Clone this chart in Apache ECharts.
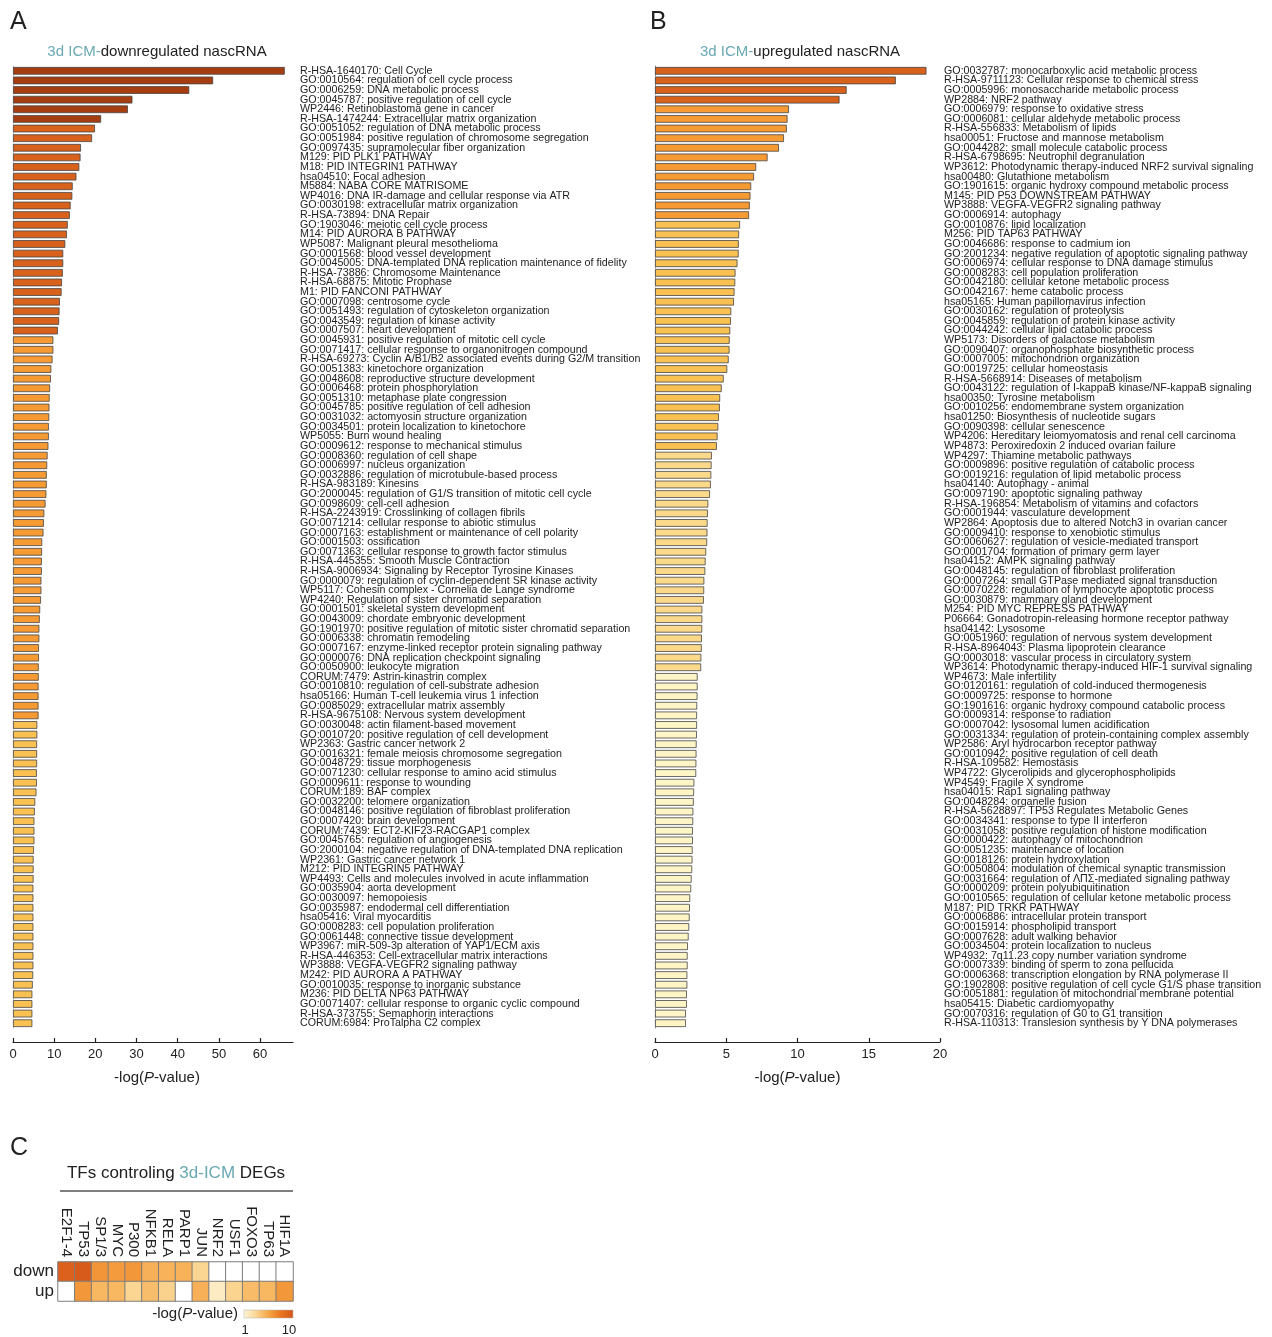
<!DOCTYPE html>
<html>
<head>
<meta charset="utf-8">
<script src="https://cdn.jsdelivr.net/npm/echarts@6/dist/echarts.min.js"></script>
<style>
  html, body { margin: 0; padding: 0; background: #ffffff; }
  #chart { width: 1272px; height: 1337px; }
</style>
</head>
<body>
<div id="chart"></div>
<script>
// Enriched terms among 3d ICM-downregulated nascent transcripts
const downTerms = [
  'R-HSA-1640170: Cell Cycle',
  'GO:0010564: regulation of cell cycle process',
  'GO:0006259: DNA metabolic process',
  'GO:0045787: positive regulation of cell cycle',
  'WP2446: Retinoblastoma gene in cancer',
  'R-HSA-1474244: Extracellular matrix organization',
  'GO:0051052: regulation of DNA metabolic process',
  'GO:0051984: positive regulation of chromosome segregation',
  'GO:0097435: supramolecular fiber organization',
  'M129: PID PLK1 PATHWAY',
  'M18: PID INTEGRIN1 PATHWAY',
  'hsa04510: Focal adhesion',
  'M5884: NABA CORE MATRISOME',
  'WP4016: DNA IR-damage and cellular response via ATR',
  'GO:0030198: extracellular matrix organization',
  'R-HSA-73894: DNA Repair',
  'GO:1903046: meiotic cell cycle process',
  'M14: PID AURORA B PATHWAY',
  'WP5087: Malignant pleural mesothelioma',
  'GO:0001568: blood vessel development',
  'GO:0045005: DNA-templated DNA replication maintenance of fidelity',
  'R-HSA-73886: Chromosome Maintenance',
  'R-HSA-68875: Mitotic Prophase',
  'M1: PID FANCONI PATHWAY',
  'GO:0007098: centrosome cycle',
  'GO:0051493: regulation of cytoskeleton organization',
  'GO:0043549: regulation of kinase activity',
  'GO:0007507: heart development',
  'GO:0045931: positive regulation of mitotic cell cycle',
  'GO:0071417: cellular response to organonitrogen compound',
  'R-HSA-69273: Cyclin A/B1/B2 associated events during G2/M transition',
  'GO:0051383: kinetochore organization',
  'GO:0048608: reproductive structure development',
  'GO:0006468: protein phosphorylation',
  'GO:0051310: metaphase plate congression',
  'GO:0045785: positive regulation of cell adhesion',
  'GO:0031032: actomyosin structure organization',
  'GO:0034501: protein localization to kinetochore',
  'WP5055: Burn wound healing',
  'GO:0009612: response to mechanical stimulus',
  'GO:0008360: regulation of cell shape',
  'GO:0006997: nucleus organization',
  'GO:0032886: regulation of microtubule-based process',
  'R-HSA-983189: Kinesins',
  'GO:2000045: regulation of G1/S transition of mitotic cell cycle',
  'GO:0098609: cell-cell adhesion',
  'R-HSA-2243919: Crosslinking of collagen fibrils',
  'GO:0071214: cellular response to abiotic stimulus',
  'GO:0007163: establishment or maintenance of cell polarity',
  'GO:0001503: ossification',
  'GO:0071363: cellular response to growth factor stimulus',
  'R-HSA-445355: Smooth Muscle Contraction',
  'R-HSA-9006934: Signaling by Receptor Tyrosine Kinases',
  'GO:0000079: regulation of cyclin-dependent SR kinase activity',
  'WP5117: Cohesin complex - Cornelia de Lange syndrome',
  'WP4240: Regulation of sister chromatid separation',
  'GO:0001501: skeletal system development',
  'GO:0043009: chordate embryonic development',
  'GO:1901970: positive regulation of mitotic sister chromatid separation',
  'GO:0006338: chromatin remodeling',
  'GO:0007167: enzyme-linked receptor protein signaling pathway',
  'GO:0000076: DNA replication checkpoint signaling',
  'GO:0050900: leukocyte migration',
  'CORUM:7479: Astrin-kinastrin complex',
  'GO:0010810: regulation of cell-substrate adhesion',
  'hsa05166: Human T-cell leukemia virus 1 infection',
  'GO:0085029: extracellular matrix assembly',
  'R-HSA-9675108: Nervous system development',
  'GO:0030048: actin filament-based movement',
  'GO:0010720: positive regulation of cell development',
  'WP2363: Gastric cancer network 2',
  'GO:0016321: female meiosis chromosome segregation',
  'GO:0048729: tissue morphogenesis',
  'GO:0071230: cellular response to amino acid stimulus',
  'GO:0009611: response to wounding',
  'CORUM:189: BAF complex',
  'GO:0032200: telomere organization',
  'GO:0048146: positive regulation of fibroblast proliferation',
  'GO:0007420: brain development',
  'CORUM:7439: ECT2-KIF23-RACGAP1 complex',
  'GO:0045765: regulation of angiogenesis',
  'GO:2000104: negative regulation of DNA-templated DNA replication',
  'WP2361: Gastric cancer network 1',
  'M212: PID INTEGRIN5 PATHWAY',
  'WP4493: Cells and molecules involved in acute inflammation',
  'GO:0035904: aorta development',
  'GO:0030097: hemopoiesis',
  'GO:0035987: endodermal cell differentiation',
  'hsa05416: Viral myocarditis',
  'GO:0008283: cell population proliferation',
  'GO:0061448: connective tissue development',
  'WP3967: miR-509-3p alteration of YAP1/ECM axis',
  'R-HSA-446353: Cell-extracellular matrix interactions',
  'WP3888: VEGFA-VEGFR2 signaling pathway',
  'M242: PID AURORA A PATHWAY',
  'GO:0010035: response to inorganic substance',
  'M236: PID DELTA NP63 PATHWAY',
  'GO:0071407: cellular response to organic cyclic compound',
  'R-HSA-373755: Semaphorin interactions',
  'CORUM:6984: ProTalpha C2 complex'
];

const downValues = [
  66.0, 48.6, 42.8, 29.0, 27.9, 21.4, 19.9, 19.2, 16.5, 16.4,
  16.1, 15.4, 14.5, 14.4, 14.0, 13.8, 13.3, 13.1, 12.7, 12.2,
  12.2, 12.1, 11.9, 11.8, 11.4, 11.3, 11.2, 10.9, 9.8, 9.8,
  9.6, 9.3, 9.2, 9.0, 8.9, 8.85, 8.8, 8.7, 8.7, 8.6,
  8.4, 8.3, 8.2, 8.2, 8.1, 7.9, 7.6, 7.5, 7.4, 7.1,
  7.05, 7.0, 7.0, 6.9, 6.9, 6.8, 6.6, 6.5, 6.4, 6.4,
  6.3, 6.3, 6.25, 6.25, 6.2, 6.2, 6.2, 6.2, 5.9, 5.9,
  5.85, 5.85, 5.85, 5.8, 5.8, 5.7, 5.4, 5.3, 5.2, 5.2,
  5.2, 5.1, 5.0, 5.0, 5.0, 4.95, 4.95, 4.95, 4.95, 4.95,
  4.95, 4.95, 4.95, 4.95, 4.9, 4.8, 4.7, 4.7, 4.7, 4.7
];

// Enriched terms among 3d ICM-upregulated nascent transcripts
const upTerms = [
  'GO:0032787: monocarboxylic acid metabolic process',
  'R-HSA-9711123: Cellular response to chemical stress',
  'GO:0005996: monosaccharide metabolic process',
  'WP2884: NRF2 pathway',
  'GO:0006979: response to oxidative stress',
  'GO:0006081: cellular aldehyde metabolic process',
  'R-HSA-556833: Metabolism of lipids',
  'hsa00051: Fructose and mannose metabolism',
  'GO:0044282: small molecule catabolic process',
  'R-HSA-6798695: Neutrophil degranulation',
  'WP3612: Photodynamic therapy-induced NRF2 survival signaling',
  'hsa00480: Glutathione metabolism',
  'GO:1901615: organic hydroxy compound metabolic process',
  'M145: PID P53 DOWNSTREAM PATHWAY',
  'WP3888: VEGFA-VEGFR2 signaling pathway',
  'GO:0006914: autophagy',
  'GO:0010876: lipid localization',
  'M256: PID TAP63 PATHWAY',
  'GO:0046686: response to cadmium ion',
  'GO:2001234: negative regulation of apoptotic signaling pathway',
  'GO:0006974: cellular response to DNA damage stimulus',
  'GO:0008283: cell population proliferation',
  'GO:0042180: cellular ketone metabolic process',
  'GO:0042167: heme catabolic process',
  'hsa05165: Human papillomavirus infection',
  'GO:0030162: regulation of proteolysis',
  'GO:0045859: regulation of protein kinase activity',
  'GO:0044242: cellular lipid catabolic process',
  'WP5173: Disorders of galactose metabolism',
  'GO:0090407: organophosphate biosynthetic process',
  'GO:0007005: mitochondrion organization',
  'GO:0019725: cellular homeostasis',
  'R-HSA-5668914: Diseases of metabolism',
  'GO:0043122: regulation of I-kappaB kinase/NF-kappaB signaling',
  'hsa00350: Tyrosine metabolism',
  'GO:0010256: endomembrane system organization',
  'hsa01250: Biosynthesis of nucleotide sugars',
  'GO:0090398: cellular senescence',
  'WP4206: Hereditary leiomyomatosis and renal cell carcinoma',
  'WP4873: Peroxiredoxin 2 induced ovarian failure',
  'WP4297: Thiamine metabolic pathways',
  'GO:0009896: positive regulation of catabolic process',
  'GO:0019216: regulation of lipid metabolic process',
  'hsa04140: Autophagy - animal',
  'GO:0097190: apoptotic signaling pathway',
  'R-HSA-196854: Metabolism of vitamins and cofactors',
  'GO:0001944: vasculature development',
  'WP2864: Apoptosis due to altered Notch3 in ovarian cancer',
  'GO:0009410: response to xenobiotic stimulus',
  'GO:0060627: regulation of vesicle-mediated transport',
  'GO:0001704: formation of primary germ layer',
  'hsa04152: AMPK signaling pathway',
  'GO:0048145: regulation of fibroblast proliferation',
  'GO:0007264: small GTPase mediated signal transduction',
  'GO:0070228: regulation of lymphocyte apoptotic process',
  'GO:0030879: mammary gland development',
  'M254: PID MYC REPRESS PATHWAY',
  'P06664: Gonadotropin-releasing hormone receptor pathway',
  'hsa04142: Lysosome',
  'GO:0051960: regulation of nervous system development',
  'R-HSA-8964043: Plasma lipoprotein clearance',
  'GO:0003018: vascular process in circulatory system',
  'WP3614: Photodynamic therapy-induced HIF-1 survival signaling',
  'WP4673: Male infertility',
  'GO:0120161: regulation of cold-induced thermogenesis',
  'GO:0009725: response to hormone',
  'GO:1901616: organic hydroxy compound catabolic process',
  'GO:0009314: response to radiation',
  'GO:0007042: lysosomal lumen acidification',
  'GO:0031334: regulation of protein-containing complex assembly',
  'WP2586: Aryl hydrocarbon receptor pathway',
  'GO:0010942: positive regulation of cell death',
  'R-HSA-109582: Hemostasis',
  'WP4722: Glycerolipids and glycerophospholipids',
  'WP4549: Fragile X syndrome',
  'hsa04015: Rap1 signaling pathway',
  'GO:0048284: organelle fusion',
  'R-HSA-5628897: TP53 Regulates Metabolic Genes',
  'GO:0034341: response to type II interferon',
  'GO:0031058: positive regulation of histone modification',
  'GO:0000422: autophagy of mitochondrion',
  'GO:0051235: maintenance of location',
  'GO:0018126: protein hydroxylation',
  'GO:0050804: modulation of chemical synaptic transmission',
  'GO:0031664: regulation of ΛΠΣ-mediated signaling pathway',
  'GO:0000209: protein polyubiquitination',
  'GO:0010565: regulation of cellular ketone metabolic process',
  'M187: PID TRKR PATHWAY',
  'GO:0006886: intracellular protein transport',
  'GO:0015914: phospholipid transport',
  'GO:0007628: adult walking behavior',
  'GO:0034504: protein localization to nucleus',
  'WP4932: 7q11.23 copy number variation syndrome',
  'GO:0007339: binding of sperm to zona pellucida',
  'GO:0006368: transcription elongation by RNA polymerase II',
  'GO:1902808: positive regulation of cell cycle G1/S phase transition',
  'GO:0051881: regulation of mitochondrial membrane potential',
  'hsa05415: Diabetic cardiomyopathy',
  'GO:0070316: regulation of G0 to G1 transition',
  'R-HSA-110313: Translesion synthesis by Y DNA polymerases'
];

const upValues = [
  19.05, 16.9, 13.45, 12.95, 9.4, 9.3, 9.25, 9.05, 8.7, 7.9,
  7.1, 6.95, 6.75, 6.7, 6.65, 6.6, 5.97, 5.9, 5.88, 5.87,
  5.79, 5.65, 5.63, 5.58, 5.54, 5.35, 5.33, 5.28, 5.24, 5.23,
  5.17, 5.07, 4.82, 4.68, 4.57, 4.55, 4.48, 4.44, 4.39, 4.34,
  3.99, 3.97, 3.95, 3.92, 3.86, 3.74, 3.71, 3.69, 3.68, 3.66,
  3.59, 3.55, 3.53, 3.46, 3.45, 3.43, 3.32, 3.32, 3.31, 3.29,
  3.28, 3.25, 3.24, 2.99, 2.99, 2.98, 2.96, 2.95, 2.95, 2.94,
  2.92, 2.91, 2.9, 2.89, 2.76, 2.74, 2.72, 2.69, 2.68, 2.66,
  2.66, 2.64, 2.63, 2.61, 2.57, 2.54, 2.47, 2.45, 2.43, 2.4,
  2.36, 2.31, 2.29, 2.29, 2.27, 2.27, 2.24, 2.24, 2.17, 2.17
];

const downTicks = [0, 10, 20, 30, 40, 50, 60];
const upTicks = [0, 5, 10, 15, 20];

// Transcription factors controlling 3d-ICM DEGs, -log(P) per direction (0 = not enriched)
const tfNames = ['E2F1-4', 'TP53', 'SP1/3', 'MYC', 'P300', 'NFKB1', 'RELA', 'PARP1', 'JUN', 'NRF2', 'USF1', 'FOXO3', 'TP63', 'HIF1A'];
const tfRows = ['down', 'up'];
const tfDown = [9.2, 9.6, 6.3, 6.0, 6.2, 5.0, 4.9, 4.9, 3.2, 0, 0, 0, 0, 0];
const tfUp   = [0, 6.2, 4.7, 4.7, 3.25, 4.4, 3.4, 0, 5.0, 1.7, 3.3, 4.5, 4.7, 6.2];
const scaleEnds = [1, 10];

const FONT = "'Liberation Sans', Arial, Helvetica, sans-serif";
const TEAL = '#6aa8b3';
const INK = '#222222';
const RAMP = ['#fef6da', '#fbd592', '#f6a646', '#e9761f', '#d3561a'];

// bar fill by significance bin
function binColor(v) {
  if (v >= 20) return '#a63d10';
  if (v >= 10) return '#d8611c';
  if (v >= 6) return '#f69a33';
  if (v >= 4) return '#f9c052';
  if (v >= 3) return '#fbd98b';
  return '#fdf5c6';
}

const heatData = [];
tfNames.forEach(function (name, i) {
  heatData.push([i, 0, tfDown[i]]);
  heatData.push([i, 1, tfUp[i]]);
});

function valueAxis(gridIndex, max, ticks, shift) {
  return {
    type: 'value', gridIndex: gridIndex, min: 0, max: max, interval: ticks[1] - ticks[0],
    position: 'bottom', offset: 14,
    axisLine: { show: true, lineStyle: { color: INK, width: 1.2 } },
    axisTick: { show: true, inside: true, length: 4, customValues: ticks, lineStyle: { color: INK, width: 1.2 } },
    axisLabel: { customValues: ticks, fontSize: 13, color: INK, margin: 6, fontFamily: FONT },
    splitLine: { show: false },
    name: '-log({i|P}-value)', nameLocation: 'middle', nameGap: 28,
    nameTextStyle: {
      fontSize: 15, color: INK, fontFamily: FONT, padding: [0, 0, 0, shift],
      rich: { i: { fontStyle: 'italic', fontSize: 15, color: INK, fontFamily: FONT } }
    }
  };
}

function termAxis(gridIndex, terms, lineColor, offset, margin) {
  return {
    type: 'category', gridIndex: gridIndex, data: terms, inverse: true,
    position: 'right', offset: offset,
    axisLine: { show: true, lineStyle: { color: lineColor, type: 'dashed', width: 1 } },
    axisTick: { show: false },
    axisLabel: { interval: 0, fontSize: 10.7, color: '#1e1e1e', margin: margin, fontFamily: FONT }
  };
}

function barSeries(idx, values) {
  return {
    type: 'bar', xAxisIndex: idx, yAxisIndex: idx, data: values,
    barCategoryGap: '20%',
    itemStyle: {
      color: function (p) { return binColor(p.value); },
      borderColor: '#454545', borderWidth: 0.8
    },
    emphasis: { disabled: true }
  };
}

const chart = echarts.init(document.getElementById('chart'), null, { renderer: 'canvas' });

chart.setOption({
  animation: false,
  backgroundColor: '#ffffff',
  textStyle: { fontFamily: FONT },
  grid: [
    { left: 13, top: 66, width: 280, height: 962 },
    { left: 655, top: 66, width: 285, height: 962 },
    { left: 58, top: 1262, width: 235, height: 39 }
  ],
  xAxis: [
    valueAxis(0, 68, downTicks, 8),
    valueAxis(1, 20, upTicks, 0),
    {
      type: 'category', gridIndex: 2, data: tfNames, position: 'top',
      axisLine: { show: false }, axisTick: { show: false },
      axisLabel: { interval: 0, rotate: 90, fontSize: 15, color: INK, margin: 5, fontFamily: FONT },
      splitArea: { show: false }
    }
  ],
  yAxis: [
    termAxis(0, downTerms, '#c4c4c4', 4, 3),
    termAxis(1, upTerms, '#8c8c8c', 3, 1),
    {
      type: 'category', gridIndex: 2, data: tfRows, inverse: true,
      axisLine: { show: false }, axisTick: { show: false },
      axisLabel: { interval: 0, fontSize: 17, color: INK, margin: 4, fontFamily: FONT },
      splitArea: { show: false }
    }
  ],
  // cells below the scale start (not enriched) stay white
  visualMap: {
    type: 'continuous', seriesIndex: 2, min: scaleEnds[0] - 0.01, max: scaleEnds[1],
    range: [scaleEnds[0], scaleEnds[1]],
    show: false,
    inRange: { color: RAMP },
    outOfRange: { color: '#ffffff' }
  },
  series: [
    barSeries(0, downValues),
    barSeries(1, upValues),
    {
      type: 'heatmap', xAxisIndex: 2, yAxisIndex: 2, data: heatData,
      itemStyle: { borderColor: '#7d7d7d', borderWidth: 1 },
      emphasis: { disabled: true }
    }
  ],
  graphic: [
    { type: 'text', x: 10, y: 22, style: { text: 'A', fontSize: 25, fill: INK, fontFamily: FONT, verticalAlign: 'middle' } },
    { type: 'text', x: 650, y: 22, style: { text: 'B', fontSize: 25, fill: INK, fontFamily: FONT, verticalAlign: 'middle' } },
    { type: 'text', x: 10, y: 1148, style: { text: 'C', fontSize: 25, fill: INK, fontFamily: FONT, verticalAlign: 'middle' } },
    {
      type: 'text', x: 157, y: 52,
      style: {
        text: '{t|3d ICM-}{k|downregulated nascRNA}', align: 'center', verticalAlign: 'middle',
        rich: { t: { fill: TEAL, fontSize: 15, fontFamily: FONT }, k: { fill: INK, fontSize: 15, fontFamily: FONT } }
      }
    },
    {
      type: 'text', x: 800, y: 52,
      style: {
        text: '{t|3d ICM-}{k|upregulated nascRNA}', align: 'center', verticalAlign: 'middle',
        rich: { t: { fill: TEAL, fontSize: 15, fontFamily: FONT }, k: { fill: INK, fontSize: 15, fontFamily: FONT } }
      }
    },
    {
      type: 'text', x: 176, y: 1173,
      style: {
        text: '{k|TFs controling }{t|3d-ICM}{k| DEGs}', align: 'center', verticalAlign: 'middle',
        rich: { t: { fill: TEAL, fontSize: 17, fontFamily: FONT }, k: { fill: INK, fontSize: 17, fontFamily: FONT } }
      }
    },
    { type: 'line', shape: { x1: 60, y1: 1191, x2: 293, y2: 1191 }, style: { stroke: '#555555', lineWidth: 1.5 } },
    // colour scale key for the heatmap
    {
      type: 'rect', shape: { x: 244, y: 1310, width: 49, height: 8 },
      style: {
        fill: new echarts.graphic.LinearGradient(0, 0, 1, 0, RAMP.map(function (c, i) {
          return { offset: i / (RAMP.length - 1), color: c };
        })),
        stroke: '#b0b0b0', lineWidth: 0.5
      }
    },
    {
      type: 'text', x: 238, y: 1314,
      style: {
        text: '{k|-log(}{i|P}{k|-value)}', align: 'right', verticalAlign: 'middle',
        rich: { k: { fill: INK, fontSize: 15, fontFamily: FONT }, i: { fill: INK, fontSize: 15, fontStyle: 'italic', fontFamily: FONT } }
      }
    },
    { type: 'text', x: 245, y: 1330, style: { text: String(scaleEnds[0]), fontSize: 13, fill: INK, fontFamily: FONT, align: 'center', verticalAlign: 'middle' } },
    { type: 'text', x: 289, y: 1330, style: { text: String(scaleEnds[1]), fontSize: 13, fill: INK, fontFamily: FONT, align: 'center', verticalAlign: 'middle' } }
  ]
});
</script>
</body>
</html>
